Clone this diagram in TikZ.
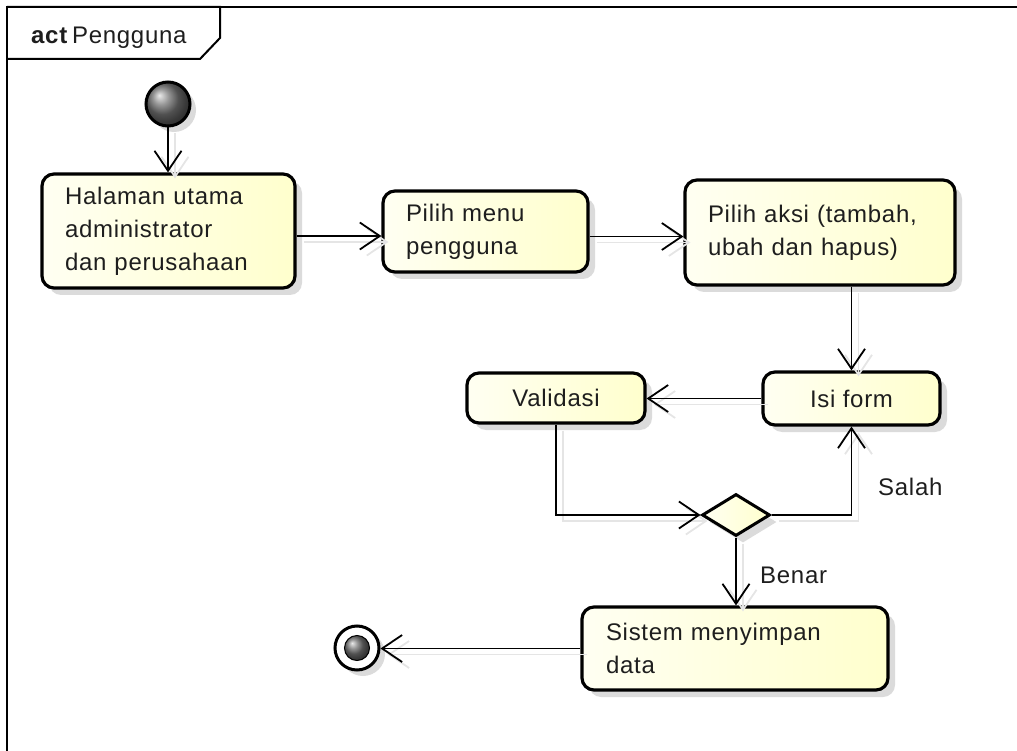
\documentclass[tikz,border=0pt]{standalone}
\usepackage{fontspec}
\setmainfont{Liberation Sans}[LetterSpace=3]
\usetikzlibrary{arrows.meta,shapes.geometric,shadows}
\definecolor{boxL}{RGB}{255,255,242}
\definecolor{boxR}{RGB}{255,255,205}
\definecolor{txt}{RGB}{30,30,30}
\tikzset{
  act/.style={rectangle, rounded corners=12pt, draw=black, line width=3.2pt,
    left color=boxL, right color=boxR, text=txt, inner sep=0pt,
    font=\fontsize{24}{33}\selectfont,
    drop shadow={shadow xshift=7pt, shadow yshift=-7pt, opacity=1, fill=black!14}},
  conn/.style={draw=black, line width=1.8pt,
    -{Straight Barb[length=20pt,width=27pt,line width=1.8pt]},
    preaction={draw=black!10, line width=1.6pt,
      transform canvas={xshift=7pt,yshift=-6pt}}},
  lbl/.style={font=\fontsize{24}{28}\selectfont, text=txt, inner sep=0pt}
}
\begin{document}
\begin{tikzpicture}[x=1pt,y=-1pt]
\useasboundingbox (0,0) rectangle (1017,751);
% frame
\draw[line width=2pt] (1017,7) -- (7,7) -- (7,751);
\draw[line width=2pt] (7,7) -- (220,7) -- (220,38) -- (200,59) -- (7,59);
\node[anchor=base west, inner sep=0pt, text=txt, font=\fontsize{24}{28}\selectfont] (title) at (31,44) {\textbf{act}\hspace{4pt}Pengguna};

% start
\node[circle, draw=black, line width=3pt, minimum size=44pt, inner sep=0pt,
  ball color=black!55,
  drop shadow={shadow xshift=6pt, shadow yshift=-6pt, opacity=1, fill=black!14}] (start) at (168,104) {};

% activities
\node[act, minimum width=253pt, minimum height=114pt, text width=207pt, align=left] (n1) at (168.5,231) {Halaman utama\\administrator\\dan perusahaan};
\node[act, minimum width=205pt, minimum height=81pt, text width=159pt, align=left] (n2) at (485.5,231.5) {Pilih menu\\pengguna};
\node[act, minimum width=270pt, minimum height=105pt, text width=224pt, align=left] (n3) at (820,232.5) {Pilih aksi (tambah,\\ubah dan hapus)};
\node[act, minimum width=177pt, minimum height=53pt, align=center] (isi) at (851.5,398.5) {Isi form};
\node[act, minimum width=178pt, minimum height=50pt, align=center] (val) at (556,398) {Validasi};
\node[diamond, draw=black, line width=3pt, minimum width=68pt, minimum height=42pt, inner sep=0pt,
  left color=boxL, right color=boxR,
  drop shadow={shadow xshift=7pt, shadow yshift=-7pt, opacity=1, fill=black!14}] (dec) at (736,515) {};
\node[act, minimum width=306pt, minimum height=83pt, text width=258pt, align=left] (sis) at (735,648.5) {Sistem menyimpan\\data};

% final
\node[circle, draw=black, line width=3pt, minimum size=44pt, inner sep=0pt, fill=white,
  drop shadow={shadow xshift=6pt, shadow yshift=-6pt, opacity=1, fill=black!14}] (fin) at (357,648) {};
\node[circle, draw=black, line width=1pt, minimum size=25pt, inner sep=0pt, ball color=black!55] (fincore) at (fin.center) {};

% connectors
\draw[conn] (start.south) -- (start.south |- n1.north);
\draw[conn] ([yshift=-5pt]n1.east) -- ([yshift=-5pt]n1.east -| n2.west);
\draw[conn] ([yshift=-5pt]n2.east) -- ([yshift=-5pt]n2.east -| n3.west);
\draw[conn] (isi.north |- n3.south) -- (isi.north);
\draw[conn] (isi.west) -- (isi.west -| val.east);
\draw[conn] (val.south) |- (dec.west);
\draw[conn] (dec.east) -| (isi.south);
\draw[conn] (dec.south) -- (dec.south |- sis.north);
\draw[conn] (sis.west) -- (sis.west -| fin.east);

% labels
\node[lbl, anchor=west] (salah) at (878,487) {Salah};
\node[lbl, anchor=west] (benar) at (760,575) {Benar};
\end{tikzpicture}
\end{document}
